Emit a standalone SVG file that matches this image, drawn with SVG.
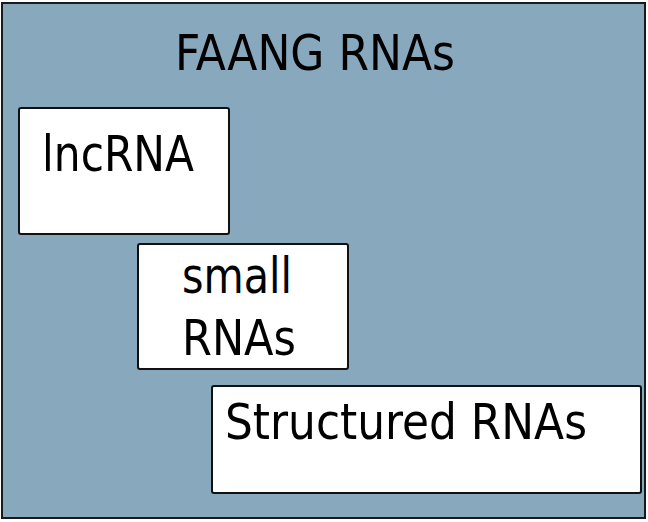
<svg xmlns="http://www.w3.org/2000/svg" width="648" height="522" viewBox="0 0 648 522">
<style>
.box{fill:#ffffff;stroke:#111111;stroke-width:2}
.t{font-family:"DejaVu Sans Condensed","DejaVu Sans",sans-serif;font-size:50px;fill:#000000}
</style>
<g id="faang">
<rect x="2" y="3" width="643" height="515" fill="#88A8BD" stroke="#1a1a1a" stroke-width="2"/>
<text class="t" x="175" y="70" font-size="48" textLength="280" lengthAdjust="spacingAndGlyphs">FAANG RNAs</text>
</g>
<g id="lncrna">
<rect class="box" x="19" y="108" width="210" height="126" rx="2"/>
<text class="t" x="42" y="171" textLength="152" lengthAdjust="spacingAndGlyphs">lncRNA</text>
</g>
<g id="small">
<rect class="box" x="138" y="244" width="210" height="125" rx="2"/>
<text class="t" x="182" y="293" textLength="110" lengthAdjust="spacingAndGlyphs">small</text>
<text class="t" x="182" y="355" textLength="114" lengthAdjust="spacingAndGlyphs">RNAs</text>
</g>
<g id="structured">
<rect class="box" x="212" y="386" width="429" height="107" rx="2"/>
<text class="t" x="225" y="439" textLength="362" lengthAdjust="spacingAndGlyphs">Structured RNAs</text>
</g>
<g id="connectors"></g>
</svg>
